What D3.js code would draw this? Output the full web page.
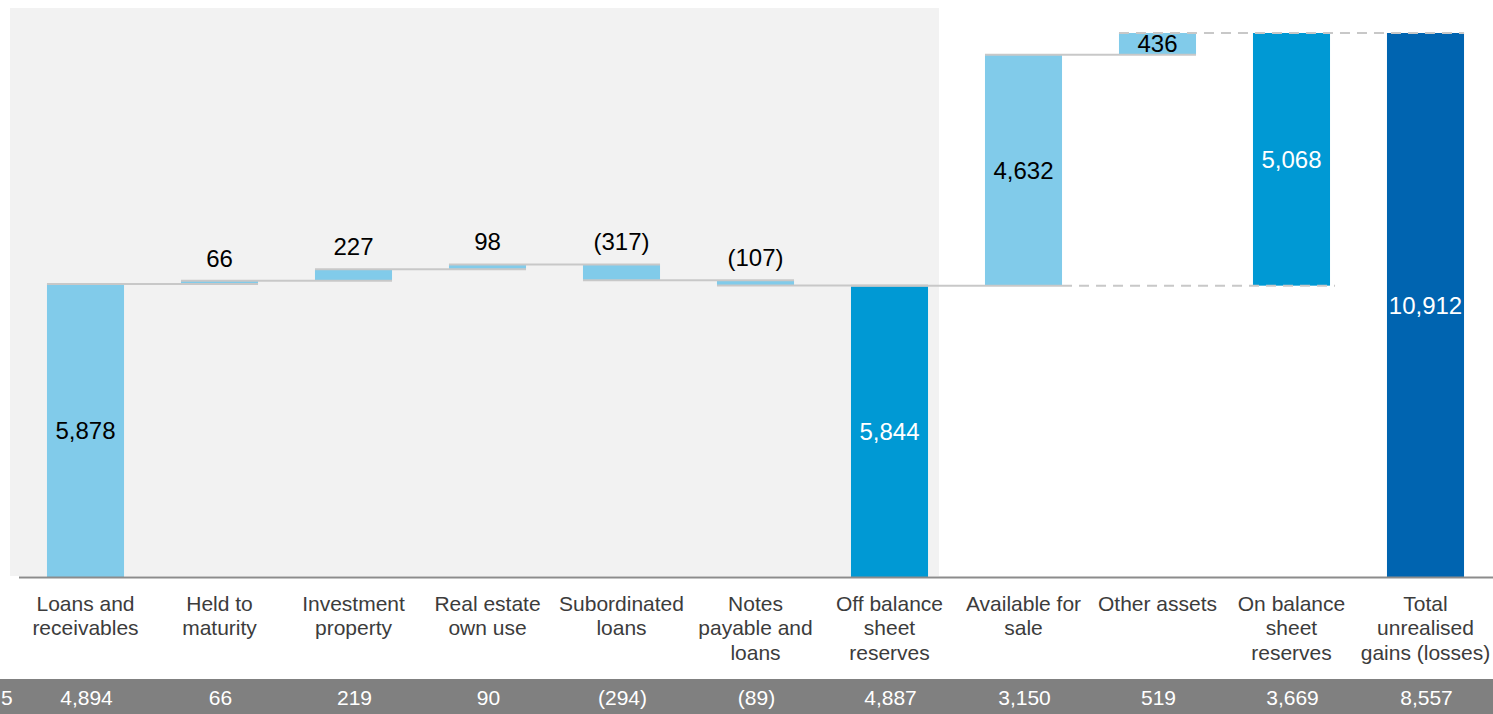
<!DOCTYPE html>
<html>
<head>
<meta charset="utf-8">
<script src="https://cdn.jsdelivr.net/npm/d3@7/dist/d3.min.js"></script>
<style>
  html, body { margin: 0; padding: 0; background: #ffffff; }
  svg { display: block; font-family: "Liberation Sans", Arial, sans-serif; }
</style>
</head>
<body>
<svg id="chart" width="1493" height="714"></svg>
<script>
// ---- data ----
const categories = [
  "Loans and receivables", "Held to maturity", "Investment property", "Real estate own use",
  "Subordinated loans", "Notes payable and loans", "Off balance sheet reserves",
  "Available for sale", "Other assets", "On balance sheet reserves", "Total unrealised gains (losses)"
];
const categoryLines = [
  ["Loans and", "receivables"], ["Held to", "maturity"], ["Investment", "property"],
  ["Real estate", "own use"], ["Subordinated", "loans"], ["Notes", "payable and", "loans"],
  ["Off balance", "sheet", "reserves"], ["Available for", "sale"], ["Other assets"],
  ["On balance", "sheet", "reserves"], ["Total", "unrealised", "gains (losses)"]
];
const values = [5878, 66, 227, 98, -317, -107, 5844, 4632, 436, 5068, 10912];
const kinds  = ["total", "delta", "delta", "delta", "delta", "delta", "total", "delta", "delta", "sub", "total"];
const shades = ["light", "light", "light", "light", "light", "light", "mid", "light", "light", "mid", "dark"];
const priorValues = [4894, 66, 219, 90, -294, -89, 4887, 3150, 519, 3669, 8557];
const cutOffLeftLabel = "5";

// ---- styles ----
const colors = { light: "#81cbea", mid: "#0099d4", dark: "#0064b0" };
const labelColors = { light: "#000000", mid: "#ffffff", dark: "#ffffff" };
const connectorColor = "#c8c8c8";

const svg = d3.select("#chart");
const W = 1493, H = 714;

// ---- compute waterfall ----
let running = 0, lastTotal = 0;
const bars = values.map((v, i) => {
  let base, end;
  if (kinds[i] === "total") { base = 0; end = v; running = v; lastTotal = v; }
  else if (kinds[i] === "delta") { base = running; end = running + v; running = end; }
  else { base = lastTotal; end = lastTotal + v; }
  return { i, cat: categories[i], v, base, end, lo: Math.min(base, end), hi: Math.max(base, end), kind: kinds[i], shade: shades[i] };
});

// ---- scales ----
const x = d3.scaleBand().domain(categories).range([18.5, 1492.5]).paddingInner(0.425).paddingOuter(0.2125);
const y = d3.scaleLinear().domain([0, 10912]).range([577, 33]);
const bw = x.bandwidth();

const fmt = v => v < 0 ? "(" + d3.format(",")(-v) + ")" : d3.format(",")(v);

// ---- background panel over the first seven categories ----
svg.append("rect")
  .attr("x", x(categories[0]) - 37)
  .attr("y", 8)
  .attr("width", x(categories[6]) + bw + 11 - (x(categories[0]) - 37))
  .attr("height", y(0) - 1 - 8)
  .attr("fill", "#f2f2f2");

// ---- bars ----
svg.append("g").selectAll("rect").data(bars).join("rect")
  .attr("x", d => x(d.cat))
  .attr("y", d => y(d.hi))
  .attr("width", bw)
  .attr("height", d => Math.max(1, y(d.lo) - y(d.hi)))
  .attr("fill", d => colors[d.shade]);

// ---- connectors ----
const conn = svg.append("g").attr("stroke", connectorColor).attr("stroke-width", 2).attr("fill", "none");
function hline(x1, x2, v, dashed) {
  conn.append("line")
    .attr("x1", x1).attr("x2", x2)
    .attr("y1", y(v)).attr("y2", y(v))
    .attr("stroke-dasharray", dashed ? "10,7" : null);
}
bars.forEach((d, i) => {
  const next = bars[i + 1];
  if (!next) return;
  if (next.kind === "delta") {
    hline(x(d.cat), x(next.cat) + bw, d.end, false);
  } else if (next.kind === "total" && d.kind === "delta" && i + 1 < bars.length - 1) {
    hline(x(d.cat), x(next.cat) + bw, d.end, false);
  }
});
bars.forEach((d, i) => {
  if (d.kind !== "sub") return;
  const prevDelta = bars[i - 2], lastDelta = bars[i - 1], total = bars[i + 1];
  hline(x(prevDelta.cat) + bw, x(d.cat) + bw + 5, d.base, true);
  hline(x(lastDelta.cat), x(total.cat) + bw, d.end, true);
});

// ---- value labels ----
svg.append("g").selectAll("text").data(bars).join("text")
  .attr("x", d => x(d.cat) + bw / 2)
  .attr("y", d => {
    const h = y(d.lo) - y(d.hi);
    return h >= 20 ? (y(d.lo) + y(d.hi)) / 2 + 8.5 : y(d.hi) - 14;
  })
  .attr("text-anchor", "middle")
  .attr("font-size", 24)
  .attr("fill", d => (y(d.lo) - y(d.hi) >= 20) ? labelColors[d.shade] : "#000000")
  .text(d => fmt(d.v));

// ---- axis ----
const axis = svg.append("g").attr("transform", `translate(0,${y(0)})`)
  .call(d3.axisBottom(x).tickSize(0).tickFormat(""));
axis.select(".domain").attr("stroke", "#8c8c8c").attr("stroke-width", 2);

// ---- category labels ----
const cl = svg.append("g").attr("font-size", 21).attr("fill", "#3c3c3c").attr("text-anchor", "middle");
categories.forEach((c, i) => {
  const t = cl.append("text").attr("x", x(c) + bw / 2).attr("y", 610.5);
  categoryLines[i].forEach((ln, k) => {
    t.append("tspan").attr("x", x(c) + bw / 2).attr("dy", k === 0 ? 0 : 24.5).text(ln);
  });
});

// ---- bottom band (prior values) ----
svg.append("rect").attr("x", 0).attr("y", 679).attr("width", W).attr("height", H - 679).attr("fill", "#808080");
const band = svg.append("g").attr("font-size", 21).attr("fill", "#ffffff").attr("text-anchor", "middle");
priorValues.forEach((v, i) => {
  band.append("text").attr("x", x(categories[i]) + bw / 2 + 1).attr("y", 705).text(fmt(v));
});
band.append("text").attr("x", 1).attr("y", 705).attr("text-anchor", "start").text(cutOffLeftLabel);
</script>
</body>
</html>
